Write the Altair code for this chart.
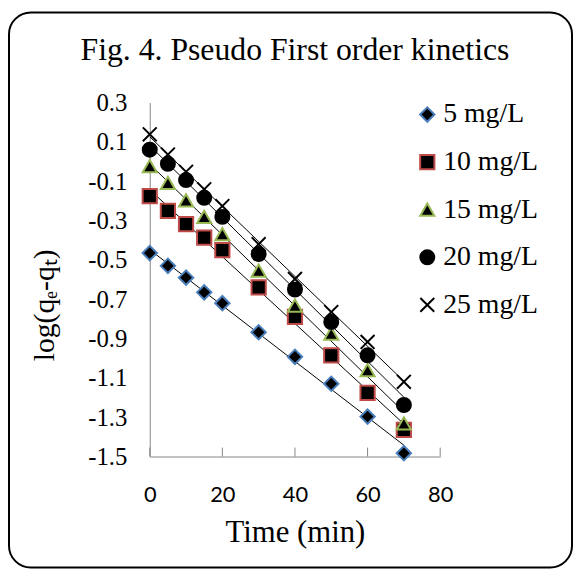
import altair as alt
import pandas as pd

times = [0, 5, 10, 15, 20, 30, 40, 50, 60, 70]
series_names = ["5 mg/L", "10 mg/L", "15 mg/L", "20 mg/L", "25 mg/L"]
s5 = [-0.465, -0.53, -0.59, -0.665, -0.72, -0.868, -0.993, -1.13, -1.297, -1.483]
s10 = [-0.175, -0.25, -0.318, -0.386, -0.45, -0.64, -0.79, -0.985, -1.176, -1.365]
s15 = [-0.023, -0.108, -0.197, -0.281, -0.369, -0.554, -0.732, -0.875, -1.061, -1.331]
s20 = [0.061, -0.011, -0.094, -0.184, -0.281, -0.47, -0.651, -0.816, -0.985, -1.238]
s25 = [0.139, 0.036, -0.052, -0.141, -0.226, -0.42, -0.597, -0.765, -0.917, -1.12]
x_ticks = [0, 20, 40, 60, 80]
y_ticks = [0.3, 0.1, -0.1, -0.3, -0.5, -0.7, -0.9, -1.1, -1.3, -1.5]
title_text = "Fig. 4. Pseudo First order kinetics"

shapes = ["diamond", "square", "triangle-up", "circle", "M-1,-1L1,1M-1,1L1,-1"]
fills = ["black", "black", "black", "black", "transparent"]
strokes = ["#4a7ebb", "#be4b48", "#98b954", "black", "black"]
sizes = [210, 196, 196, 360, 150]

rows = []
for name, vals in zip(series_names, [s5, s10, s15, s20, s25]):
    for t, v in zip(times, vals):
        rows.append({"series": name, "t": t, "y": v})
df = pd.DataFrame(rows)

serif = "Liberation Serif"
xscale = alt.Scale(domain=[0, 80], nice=False, zero=False)
yscale = alt.Scale(domain=[-1.5, 0.3], nice=False, zero=False)

xdef = alt.X("t:Q", scale=xscale, axis=alt.Axis(
    values=x_ticks, grid=False, ticks=False, domainColor="#868686", domainWidth=1,
    labelFont="Lato", labelFontSize=22, labelColor="black", labelPadding=28,
    labelFlush=False, labelOverlap=False,
    title="Time (min)", titleFont=serif, titleFontSize=31, titleFontWeight="normal",
    titleColor="black", titleY=86, titleBaseline="alphabetic"))
ydef = alt.Y("y:Q", scale=yscale, axis=alt.Axis(
    values=y_ticks, grid=False, ticks=False, domainColor="#868686", domainWidth=1,
    labelFont=serif, labelFontSize=25, labelColor="black", labelPadding=23,
    labelFlush=False, labelOverlap=False,
    labelExpr="replace(format(datum.value, '.1f'), '\u2212', '-')",
    title="log(q\u2091-q\u209c)", titleFont=serif, titleFontSize=30, titleFontWeight="normal",
    titleColor="black", titleAngle=270, titleX=-106, titleY=204,
    titleBaseline="middle", titleAlign="center"))

leg = alt.Legend(title=None, orient="none", legendX=266, legendY=-2,
                 labelFont=serif, labelFontSize=28, labelColor="black",
                 symbolStrokeWidth=2, rowPadding=20, labelOffset=2)

base = alt.Chart(df)

lines = base.transform_regression("t", "y", groupby=["series"]).mark_line(
    color="black", strokeWidth=1).encode(x=xdef, y=ydef, detail="series:N")

points = base.mark_point(filled=True, opacity=1, strokeWidth=2).encode(
    x=xdef, y=ydef,
    shape=alt.Shape("series:N", scale=alt.Scale(domain=series_names, range=shapes), legend=leg),
    fill=alt.Fill("series:N", scale=alt.Scale(domain=series_names, range=fills), legend=leg),
    stroke=alt.Stroke("series:N", scale=alt.Scale(domain=series_names, range=strokes), legend=leg),
    size=alt.Size("series:N", scale=alt.Scale(domain=series_names, range=sizes), legend=leg),
)

ticks = alt.Chart(pd.DataFrame({"t": x_ticks})).mark_rule(color="#868686", strokeWidth=1).encode(
    x=xdef, y=alt.value(357), y2=alt.value(348))

title = alt.Chart(pd.DataFrame({"text": [title_text]})).mark_text(
    font=serif, fontSize=32, align="center", baseline="alphabetic", color="black").encode(
    text="text:N", x=alt.value(146.5), y=alt.value(-43))

frame = alt.Chart(pd.DataFrame({"a": [0]})).mark_rect(
    fillOpacity=0, stroke="black", strokeWidth=2, cornerRadius=22).encode(
    x=alt.value(-142), x2=alt.value(426), y=alt.value(-91), y2=alt.value(469))

chart = alt.layer(frame, lines, points, ticks, title).properties(
    width=293, height=357,
    autosize=alt.AutoSizeParams(type="none"),
    padding={"left": 143, "top": 93, "right": 134, "bottom": 114},
    background="white",
).configure_view(stroke=None)

chart.save("out.html", embed_options={"renderer": "svg", "actions": False})
